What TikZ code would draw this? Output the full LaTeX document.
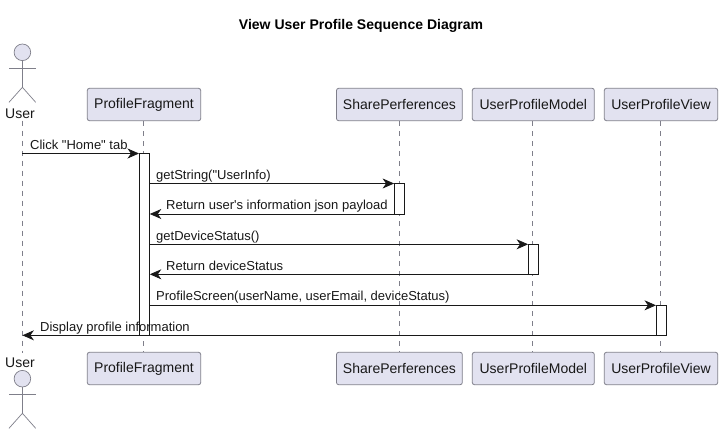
\documentclass[tikz,border=0pt]{standalone}
\usepackage{fontspec}
\setmainfont{Liberation Sans}
\newfontfamily\plainsans{Liberation Sans}
\usetikzlibrary{arrows.meta}
\definecolor{pbg}{HTML}{E2E2F0}
\definecolor{pline}{HTML}{7F7F8A}
\definecolor{ink}{HTML}{181818}
\newcommand{\lowered}[1]{\raisebox{-0.8pt}{#1}}
\tikzset{
  x=1pt,y=-1pt,
  partbox/.style={draw=pline,line width=0.8pt,fill=pbg,rounded corners=2.2pt,minimum height=32.4pt,inner sep=0pt,font=\plainsans\fontsize{14}{16}\selectfont,text=ink},
  life/.style={draw=pline,line width=0.7pt,dash pattern=on 5pt off 5pt},
  act/.style={draw=ink,fill=white,line width=0.8pt},
  msg/.style={draw=ink,line width=0.8pt,-{Stealth[length=11.5pt,width=10pt,inset=3.5pt]}},
  lbl/.style={anchor=base west,inner sep=0pt,font=\plainsans\fontsize{13}{15}\selectfont,text=ink},
  actorline/.style={draw=pline,line width=0.7pt},
  actorname/.style={font=\plainsans\fontsize{14}{16}\selectfont,text=ink,inner sep=0pt,anchor=base}
}
\begin{document}
\begin{tikzpicture}
\useasboundingbox (0,0) rectangle (722,434);
\fill[white] (0,0) rectangle (722,434);
\node[font=\plainsans\bfseries\fontsize{14}{16}\selectfont,text=black,inner sep=0pt] (title) at (361,26.2) {View User Profile Sequence Diagram};
% participants
\node[partbox,minimum width=113.4pt] (pft) at (144,104.5) {\lowered{ProfileFragment}};
\node[partbox,minimum width=125.8pt] (spt) at (399.4,104.5) {\lowered{SharePerferences}};
\node[partbox,minimum width=122pt] (umt) at (533.3,104.5) {\lowered{UserProfileModel}};
\node[partbox,minimum width=113.4pt] (uvt) at (661,104.5) {\lowered{UserProfileView}};
\node[partbox,minimum width=113.4pt] (pfb) at (144,368.5) {\lowered{ProfileFragment}};
\node[partbox,minimum width=125.8pt] (spb) at (399.4,368.5) {\lowered{SharePerferences}};
\node[partbox,minimum width=122pt] (umb) at (533.3,368.5) {\lowered{UserProfileModel}};
\node[partbox,minimum width=113.4pt] (uvb) at (661,368.5) {\lowered{UserProfileView}};
\node[actorname] (ut) at (20,118) {User};
\node[actorname] (ub) at (20,367) {User};
\coordinate (ul1) at (22.4,120.5);
\coordinate (ul2) at (22.4,352.5);
% lifelines
\draw[life] (ul1) -- (ul2);
\draw[life] ([xshift=-0.5pt]pft.south) -- ([xshift=-0.5pt]pfb.north);
\draw[life] (spt.south) -- (spb.north);
\draw[life] ([xshift=-0.8pt]umt.south) -- ([xshift=-0.8pt]umb.north);
\draw[life] ([xshift=-0.6pt]uvt.south) -- ([xshift=-0.6pt]uvb.north);
% activations
\node[act,minimum width=10pt,minimum height=181.5pt,inner sep=0pt] (apf) at (144.4,244.25) {};
\node[act,minimum width=10pt,minimum height=30.5pt,inner sep=0pt] (asp) at (399.5,198.75) {};
\node[act,minimum width=10pt,minimum height=30pt,inner sep=0pt] (aum) at (533.5,259.3) {};
\node[act,minimum width=10pt,minimum height=30pt,inner sep=0pt] (auv) at (661.4,320.3) {};
% helper points
\coordinate (m1a) at (22.4,153.5);
\coordinate (m7b) at (22.4,335.3);
% messages
\draw[msg] (m1a) -- (apf.west |- m1a);
\node[lbl] (l1) at (30,149) {Click "Home" tab};
\draw[msg] (apf.east |- 0,183.5) -- (asp.west |- 0,183.5);
\node[lbl] (l2) at (156,179) {getString("UserInfo)};
\draw[msg] (asp.west |- 0,214) -- (apf.east |- 0,214);
\node[lbl] (l3) at (166,209.5) {Return user's information json payload};
\draw[msg] (apf.east |- 0,244.3) -- (aum.west |- 0,244.3);
\node[lbl] (l4) at (156,240) {getDeviceStatus()};
\draw[msg] (aum.west |- 0,274.3) -- (apf.east |- 0,274.3);
\node[lbl] (l5) at (166,270) {Return deviceStatus};
\draw[msg] (apf.east |- 0,305.3) -- (auv.west |- 0,305.3);
\node[lbl] (l6) at (156,300.5) {ProfileScreen(userName, userEmail, deviceStatus)};
\draw[msg] (auv.west |- m7b) -- (m7b);
\node[lbl] (l7) at (40,331) {Display profile information};
% actors
\begin{scope}[actorline]
\draw[fill=pbg] (22.4,52.3) circle (8.3);
\draw (22.4,60.6) -- (22.4,87.3) (9,68.3) -- (35.7,68.3);
\draw (9,102.3) -- (22.4,87.3) -- (35.7,102.3);
\draw[fill=pbg] (22.4,378.7) circle (8.3);
\draw (22.4,387) -- (22.4,413.3) (9,394) -- (35.7,394);
\draw (9,428.3) -- (22.4,413.3) -- (35.7,428.3);
\end{scope}
\end{tikzpicture}
\end{document}
